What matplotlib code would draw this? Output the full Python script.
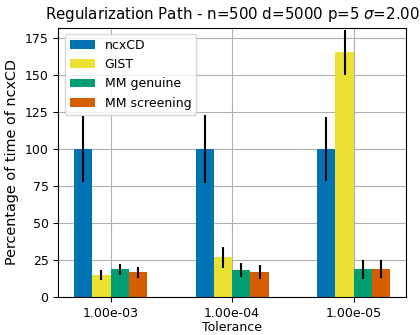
import numpy as np
import matplotlib
matplotlib.use("Agg")
import matplotlib.pyplot as plt

# Données
tolerances = ["1.00e-03", "1.00e-04", "1.00e-05"]
methodes = ["ncxCD", "GIST", "MM genuine", "MM screening"]
couleurs = ["#0173B2", "#ECE133", "#029E73", "#D55E00"]

ncxcd = [100, 100, 100]
ncxcd_err = [22, 23, 21.3]
gist = [14.8, 26.9, 165.2]
gist_err = [3.4, 6.9, 15.4]
mm_genuine = [18.8, 18.2, 18.8]
mm_genuine_err = [3.8, 4.7, 6.3]
mm_screening = [16.8, 17.0, 18.8]
mm_screening_err = [3.6, 4.6, 6.1]

valeurs = [ncxcd, gist, mm_genuine, mm_screening]
erreurs = [ncxcd_err, gist_err, mm_genuine_err, mm_screening_err]

fig = plt.figure(figsize=(4.2, 3.35), dpi=100)
ax = fig.add_axes([0.1388, 0.1125, 0.8279, 0.8054])

x = np.arange(len(tolerances))
largeur = 0.15
for k, (nom, val, err, c) in enumerate(zip(methodes, valeurs, erreurs, couleurs)):
    ax.bar(x + (k - 1.5) * largeur, val, largeur, yerr=err, color=c, label=nom,
           error_kw=dict(ecolor="black", elinewidth=1.5, capsize=0), zorder=2)

# Grille et axes
ax.set_axisbelow(True)
ax.grid(True, color="#b0b0b0", linewidth=0.8)
ax.set_xlim(-0.43, 2.43)
ax.set_ylim(0, 182)
ax.set_yticks([0, 25, 50, 75, 100, 125, 150, 175])
ax.set_xticks(x)
ax.set_xticklabels(tolerances)
ax.tick_params(labelsize=9)
ax.set_xlabel("Tolerance", fontsize=9, labelpad=1)
ax.set_ylabel("Percentage of time of ncxCD", fontsize=10.4)
ax.set_title(r"Regularization Path - n=500 d=5000 p=5 $\sigma$=2.00", fontsize=10.8)
ax.legend(loc="upper left", fontsize=9)

fig.savefig("out.png", dpi=100)
